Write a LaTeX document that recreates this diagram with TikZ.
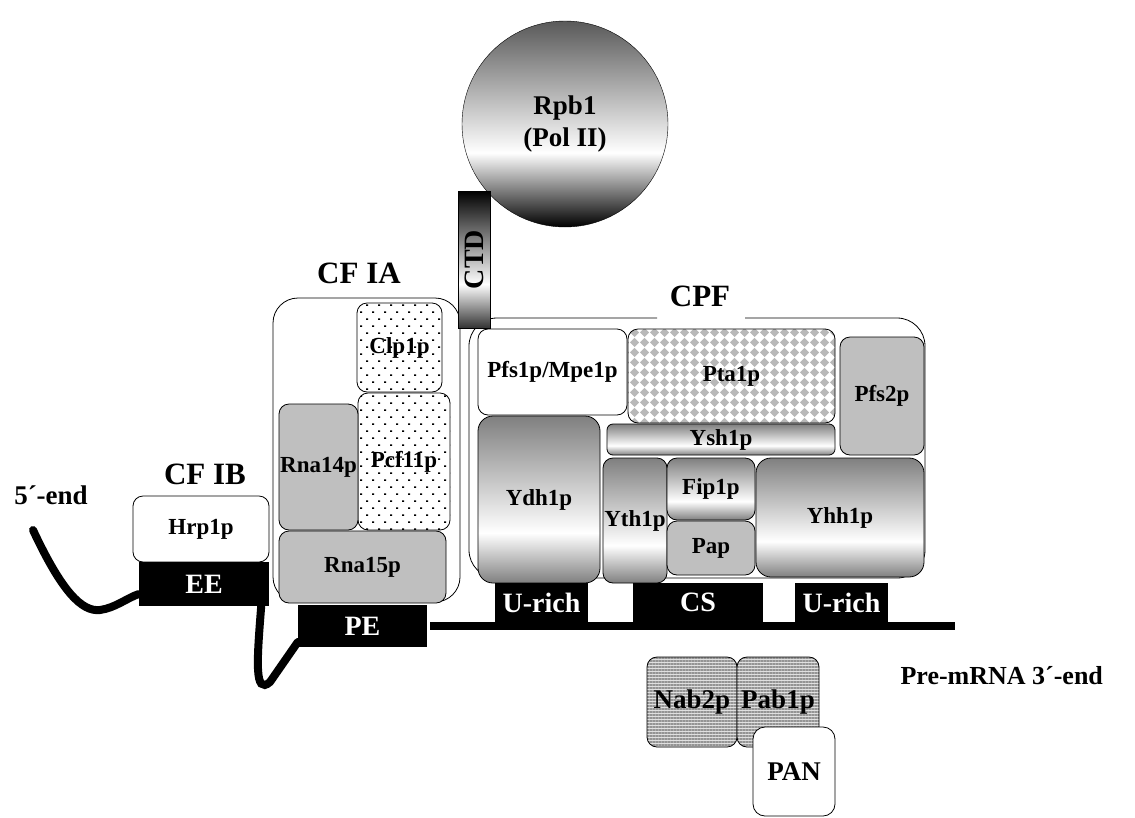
\documentclass[tikz,border=0pt]{standalone}
\usepackage{fontspec}
\setmainfont{Liberation Serif}
\usetikzlibrary{patterns,patterns.meta}

% shadings for the protein blocks
\pgfdeclareverticalshading{protshade}{100bp}{color(0bp)=(black!50); color(25bp)=(black!50); color(40bp)=(white); color(75bp)=(black!50); color(100bp)=(black!50)}
\pgfdeclareverticalshading{ballshade}{100bp}{color(0bp)=(black); color(25bp)=(black); color(43bp)=(white); color(75bp)=(black!65); color(100bp)=(black!65)}
\pgfdeclareverticalshading{ctdshade}{100bp}{color(0bp)=(black!80); color(25bp)=(black!80); color(41bp)=(white); color(75bp)=(black); color(100bp)=(black)}

% fill patterns
\pgfdeclarepatternformonly{spotdots}{\pgfpoint{-1pt}{-1pt}}{\pgfpoint{13pt}{15pt}}{\pgfpoint{12pt}{14pt}}{
\pgfpathrectangle{\pgfpoint{0pt}{0pt}}{\pgfpoint{2pt}{1.5pt}}
\pgfpathrectangle{\pgfpoint{6pt}{7pt}}{\pgfpoint{2pt}{1.5pt}}
\pgfusepath{fill}}
\pgfdeclarepatternformonly{diachecks}{\pgfpointorigin}{\pgfpoint{10pt}{10pt}}{\pgfpoint{10pt}{10pt}}{
\pgfpathmoveto{\pgfpoint{5pt}{0pt}}\pgfpathlineto{\pgfpoint{10pt}{5pt}}
\pgfpathlineto{\pgfpoint{5pt}{10pt}}\pgfpathlineto{\pgfpoint{0pt}{5pt}}
\pgfpathclose\pgfusepath{fill}}

\begin{document}
\begin{tikzpicture}[x=1pt,y=-1pt,
prot/.style={draw, rounded corners=10pt, inner sep=0pt, line width=0.8pt, font=\bfseries\fontsize{23}{25}\selectfont},
flatprot/.style={prot, fill=black!25},
gradprot/.style={prot, shading=protshade},
dotprot/.style={prot, preaction={fill=white}, pattern=spotdots},
checkprot/.style={prot, preaction={fill=white}, pattern=diachecks, pattern color=black!28},
waveprot/.style={prot, font=\bfseries\fontsize{27}{29}\selectfont, preaction={fill=black!12}, pattern={Lines[distance=3pt,line width=1.2pt]}, pattern color=black!42},
sitebox/.style={fill=black, text=white, inner sep=0pt, minimum height=39pt, font=\bfseries\fontsize{28}{30}\selectfont},
grpname/.style={font=\bfseries\fontsize{31}{33}\selectfont},
endname/.style={font=\bfseries\fontsize{27}{29}\selectfont},
rna/.style={line width=8pt, line cap=round}]
\useasboundingbox (0,0) rectangle (1135,817);

% complexes
\node[draw, fill=white, rounded corners=25pt, line width=0.8pt, minimum width=187pt, minimum height=304pt] (cfia) at (366.5,450) {};
\draw[line width=0.8pt, rounded corners=28pt] (745,318) -- (925,318) -- (925,578) -- (469,578) -- (469,318) -- (657,318);

% polymerase
\node[draw, circle, minimum size=206pt, shading=ballshade, align=center, font=\bfseries\fontsize{27}{32}\selectfont] (rpb) at (565,124) {Rpb1\\(Pol II)};
\node[draw, shading=ctdshade, minimum width=32pt, minimum height=137pt, inner sep=0pt, font=\bfseries\fontsize{28}{30}\selectfont] (ctd) at (474,259.5) {\rotatebox{90}{CTD}};

% CF IB
\node[prot, fill=white, minimum width=136pt, minimum height=66pt] (hrp) at (201,529) {Hrp1p};

% CF IA
\node[dotprot, minimum width=85pt, minimum height=89pt] (clp) at (399.5,347.5) {Clp1p};
\node[dotprot, minimum width=92pt, minimum height=137pt] (pcf) at (404,461.5) {Pcf11p};
\node[flatprot, minimum width=79pt, minimum height=126pt] (rna14) at (318.5,467) {Rna14p};
\node[flatprot, minimum width=167pt, minimum height=72pt] (rna15) at (362.5,567) {Rna15p};

% CPF
\node[prot, fill=white, minimum width=149pt, minimum height=86pt] (pfs1) at (552.5,372) {Pfs1p/Mpe1p};
\node[checkprot, minimum width=207pt, minimum height=94pt] (pta1) at (731.5,376) {Pta1p};
\node[flatprot, minimum width=84pt, minimum height=118pt] (pfs2) at (882,396) {Pfs2p};
\node[gradprot, rounded corners=6pt, minimum width=228pt, minimum height=31pt] (ysh1) at (721,439.5) {Ysh1p};
\node[gradprot, rounded corners=15pt, minimum width=122pt, minimum height=167pt] (ydh1) at (539,499.5) {Ydh1p};
\node[gradprot, minimum width=64pt, minimum height=125pt] (yth1) at (635,520.5) {Yth1p};
\node[gradprot, minimum width=88pt, minimum height=62pt] (fip1) at (711,489) {Fip1p};
\node[flatprot, minimum width=88pt, minimum height=54pt] (pap) at (711,548) {Pap};
\node[gradprot, rounded corners=15pt, minimum width=168pt, minimum height=119pt] (yhh1) at (840,517.5) {Yhh1p};

% RNA elements
\node[sitebox, minimum width=130pt, minimum height=44pt] (ee) at (204,584) {EE};
\node[sitebox, minimum width=129pt, minimum height=42pt] (pe) at (362.5,626) {PE};
\node[sitebox, minimum width=93pt] (urich1) at (541.5,602.5) {U-rich};
\node[sitebox, minimum width=130pt] (cs) at (698,602.5) {CS};
\node[sitebox, minimum width=93pt] (urich2) at (841.5,602.5) {U-rich};

% the pre-mRNA
\coordinate (fiveend) at (33,530);
\coordinate (rnaend) at (955,626);
\draw[rna] (fiveend) .. controls (62,592) and (82,612) .. (100,610) .. controls (115,608) and (127,598) .. ([yshift=-10pt]ee.west);
\draw[rna] ([xshift=-8pt]ee.south east) .. controls (257,660) and (254,696) .. (270,682) -- ([yshift=-16pt]pe.west);
\draw[line width=8pt] ([xshift=3pt]pe.east) -- (rnaend);

% poly(A) binding
\node[waveprot, minimum width=90pt, minimum height=90pt] (nab2) at (692,702) {Nab2p};
\node[waveprot, minimum width=82pt, minimum height=90pt] (pab1) at (778,702) {Pab1p};
\node[prot, fill=white, rounded corners=12pt, font=\bfseries\fontsize{27}{29}\selectfont, minimum width=82pt, minimum height=89pt] (pan) at (794,771.5) {PAN};

% labels
\node[grpname] (cfialab) at (359,273) {CF IA};
\node[grpname] (cfiblab) at (205,474) {CF IB};
\node[grpname] (cpflab) at (700,296) {CPF};
\node[endname] (fivelab) at (51,495) {5´-end};
\node[endname, anchor=west, font=\bfseries\fontsize{26}{28}\selectfont] (threelab) at (897,676) {Pre-mRNA 3´-end};
\end{tikzpicture}
\end{document}
